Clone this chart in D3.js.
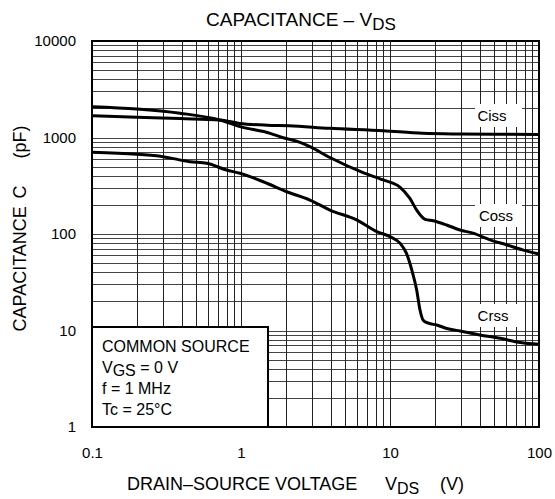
<!DOCTYPE html>
<html>
<head>
<meta charset="utf-8">
<script src="https://cdn.jsdelivr.net/npm/d3@7"></script>
<style>
  html, body { margin: 0; padding: 0; background: #fff; }
  svg { display: block; }
  text { font-family: "Liberation Sans", Arial, Helvetica, sans-serif; fill: #000; }
</style>
</head>
<body>
<svg id="chart" width="555" height="499"></svg>
<script>
// ---- data ----
const xTicks = [0.1, 1, 10, 100];
const yTicks = [1, 10, 100, 1000, 10000];

const cissV = [0.1, 0.2, 0.39, 0.72, 0.98, 1.5, 2.1, 3.9, 9, 16.6, 29.5, 50, 100];
const cissC = [1680, 1620, 1570, 1520, 1400, 1340, 1325, 1245, 1175, 1105, 1087, 1080, 1074];

const cossV = [0.1, 0.2, 0.39, 0.72, 0.985, 1.57, 1.92, 2.49, 2.9, 3.95, 6.6, 9, 11.7, 13.6, 15.1, 17.2, 19.5, 24, 29.5, 36, 47, 61, 78.5, 100];
const cossC = [2085, 1975, 1785, 1520, 1295, 1105, 995, 890, 803, 620, 432, 363, 305, 234, 177, 142, 137, 124, 110, 102, 87, 77, 68, 62];

const crssV = [0.1, 0.2, 0.3, 0.455, 0.59, 0.8, 0.985, 1.41, 2.03, 2.9, 3.95, 5.97, 8.15, 10, 11.7, 12.9, 14, 15.1, 15.9, 16.7, 18.1, 20.6, 24, 29.5, 40, 55, 75, 100];
const crssC = [703, 670, 633, 561, 540, 460, 426, 348, 274, 225, 177, 140, 106, 94, 80, 63, 42.4, 26.3, 16.3, 12.8, 11.9, 11.4, 10.5, 9.9, 9.0, 8.3, 7.5, 7.2];

const seriesNames = ["Ciss", "Coss", "Crss"];
const legendLines = ["COMMON SOURCE", "VGS = 0 V", "f = 1 MHz", "Tc = 25°C"];

// ---- layout ----
const L = 92, R = 539, T = 41, B = 427;
const svg = d3.select("#chart");
const x = d3.scaleLog().domain([0.1, 100]).range([L, R]);
const y = d3.scaleLog().domain([1, 10000]).range([B, T]);

// grid values 1..9 per decade
function decadeValues(lo, hi) {
  const out = [];
  for (let e = Math.log10(lo); e < Math.log10(hi); e++) {
    for (let k = 1; k <= 9; k++) out.push(k * Math.pow(10, e));
  }
  out.push(hi);
  return out;
}
const snap = v => Math.round(v) + 0.5;

const grid = svg.append("g");
grid.selectAll("line.h").data(decadeValues(1, 10000)).join("line")
  .attr("class", "h")
  .attr("x1", L).attr("x2", R)
  .attr("y1", d => snap(y(d))).attr("y2", d => snap(y(d)))
  .attr("stroke", "#444").attr("stroke-width", 1);
grid.selectAll("line.v").data(decadeValues(0.1, 100)).join("line")
  .attr("class", "v")
  .attr("y1", T).attr("y2", B)
  .attr("x1", d => snap(x(d))).attr("x2", d => snap(x(d)))
  .attr("stroke", "#222").attr("stroke-width", 1);

// curve label backgrounds + labels
const labelPos = [
  { name: "Ciss", cx: 492, base: 121 },
  { name: "Coss", cx: 496, base: 221 },
  { name: "Crss", cx: 493, base: 321 }
];
const lab = svg.append("g");
labelPos.forEach((p, i) => {
  lab.append("rect").attr("x", 475).attr("y", p.base - 17).attr("width", 47).attr("height", 23)
    .attr("fill", "#fff");
  lab.append("text").attr("x", p.cx).attr("y", p.base).attr("text-anchor", "middle")
    .attr("font-size", 15).text(seriesNames[i]);
});

// curves
const line = d3.line().x(d => x(d[0])).y(d => y(d[1])).curve(d3.curveMonotoneX);
const series = [
  d3.zip(cissV, cissC),
  d3.zip(cossV, cossC),
  d3.zip(crssV, crssC)
];
svg.append("g").selectAll("path").data(series).join("path")
  .attr("d", line).attr("fill", "none").attr("stroke", "#000")
  .attr("stroke-width", 3).attr("stroke-linejoin", "round");

// legend box
const lg = svg.append("g");
lg.append("rect").attr("x", 92).attr("y", 327).attr("width", 176).attr("height", 100)
  .attr("fill", "#fff").attr("stroke", "#000").attr("stroke-width", 2);
const lgBase = [351.5, 373, 393.5, 415];
legendLines.forEach((t, i) => {
  const tx = lg.append("text").attr("x", 102).attr("y", lgBase[i]).attr("font-size", 16);
  if (t.startsWith("VGS")) {
    tx.append("tspan").text("V");
    tx.append("tspan").attr("dy", 3).text("GS");
    tx.append("tspan").attr("dy", -3).text(t.slice(3));
  } else {
    tx.text(t);
  }
});

// plot border
svg.append("rect").attr("x", L).attr("y", T).attr("width", R - L).attr("height", B - T)
  .attr("fill", "none").attr("stroke", "#000").attr("stroke-width", 2);

// axes (labels only)
const fmtX = d => (d < 1 ? d3.format(".1f")(d) : d3.format("d")(d));
const xAxis = svg.append("g").attr("transform", `translate(0,${B})`)
  .call(d3.axisBottom(x).tickValues(xTicks).tickFormat(fmtX).tickSize(0).tickPadding(20));
const yAxis = svg.append("g").attr("transform", `translate(${L},0)`)
  .call(d3.axisLeft(y).tickValues(yTicks).tickFormat(d3.format("d")).tickSize(0).tickPadding(16));
[xAxis, yAxis].forEach(a => {
  a.select(".domain").remove();
  a.selectAll("text").attr("font-size", 15)
    .attr("font-family", '"Liberation Sans", Arial, Helvetica, sans-serif').attr("fill", "#000");
});

// title
const title = svg.append("text").attr("x", 206).attr("y", 26).attr("font-size", 19);
title.append("tspan").text("CAPACITANCE – V");
title.append("tspan").attr("dy", 4).attr("font-size", 17).text("DS");

// x axis title
svg.append("text").attr("x", 127).attr("y", 490).attr("font-size", 18).text("DRAIN–SOURCE VOLTAGE");
const vds = svg.append("text").attr("x", 385).attr("y", 490).attr("font-size", 18);
vds.append("tspan").text("V");
vds.append("tspan").attr("dy", 3.5).attr("font-size", 16).text("DS");
svg.append("text").attr("x", 440).attr("y", 490).attr("font-size", 18).text("(V)");

// y axis title
svg.append("text").attr("transform", "translate(26,331.5) rotate(-90)").attr("font-size", 18).text("CAPACITANCE");
svg.append("text").attr("transform", "translate(26,198.5) rotate(-90)").attr("font-size", 18).text("C");
svg.append("text").attr("transform", "translate(26,158.5) rotate(-90)").attr("font-size", 18).text("(pF)");
</script>
</body>
</html>
